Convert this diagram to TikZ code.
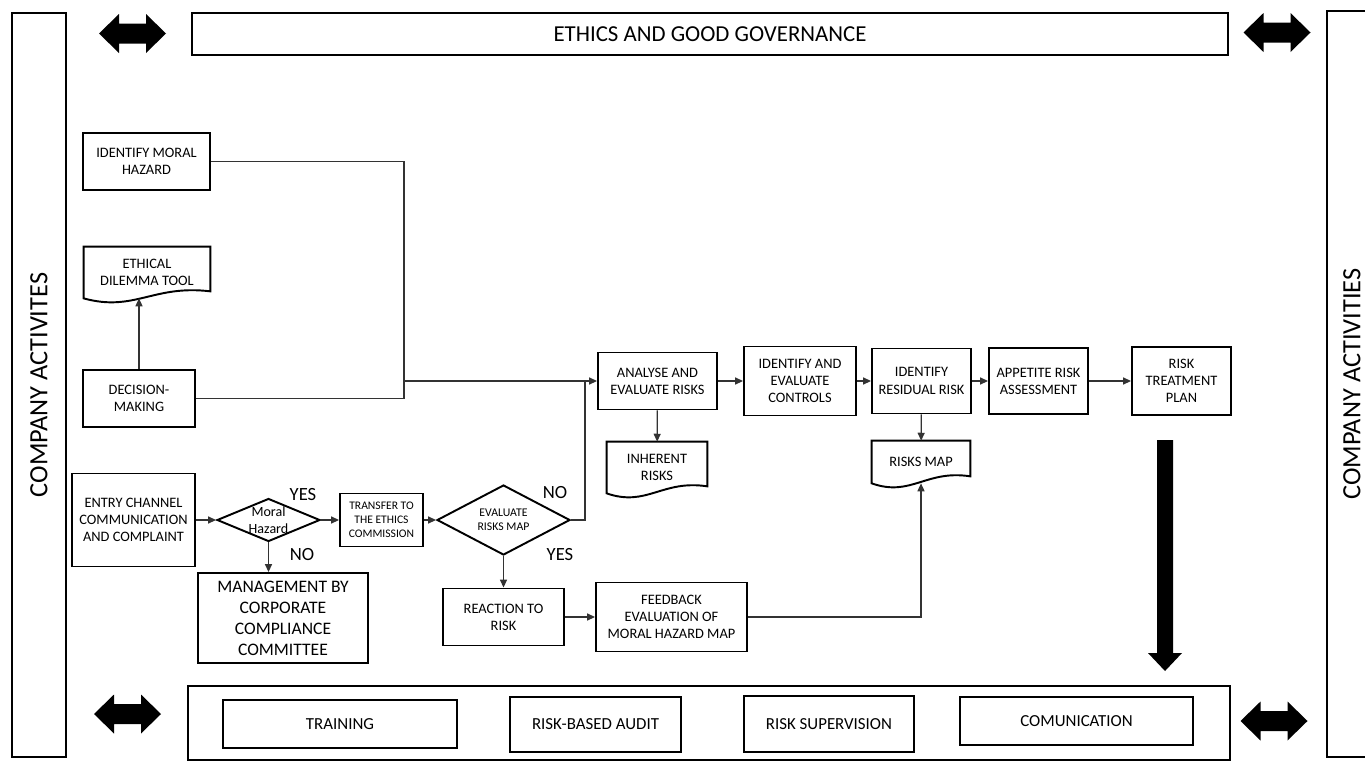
\documentclass[tikz,border=0pt]{standalone}
\usepackage{fontspec}
\setmainfont{Carlito}
\usetikzlibrary{shapes.geometric,arrows.meta,calc}

\newcommand{\dblarrow}[1]{%
  \fill #1 ++(-33.5,0) -- ++(20,-19.5) -- ++(0,9.5) -- ++(27,0) -- ++(0,-9.5)
    -- ++(20,19.5) -- ++(-20,19.5) -- ++(0,-9.5) -- ++(-27,0) -- ++(0,9.5) -- cycle;}

\begin{document}
\begin{tikzpicture}[x=0.02cm, y=-0.02cm,
    sz/.style 2 args={minimum width=#1*0.02cm, minimum height=#2*0.02cm},
    frame/.style={draw, line width=1.1pt, inner sep=0pt, align=center},
    box/.style={frame, font=\fontsize{8.2}{9.8}\selectfont},
    doc/.style={inner sep=0pt, align=center, font=\fontsize{8.2}{9.8}\selectfont},
    dec/.style={draw, diamond, line width=1.1pt, inner sep=0pt},
    act/.style={frame, font=\fontsize{9.6}{11}\selectfont},
    answer/.style={font=\fontsize{10.6}{12}\selectfont},
    line/.style={line width=0.7pt, black!80},
    arr/.style={line, -{Triangle[length=4.5pt,width=4pt]}}]
    \useasboundingbox (0,0) rectangle (1365,761);

    \node[frame, rotate=90, sz={744}{54}, font=\fontsize{15}{18}\selectfont] (caL) at (39,385) {COMPANY ACTIVITES};
    \node[frame, rotate=90, sz={746}{50}, font=\fontsize{15}{18}\selectfont] (caR) at (1352,384) {COMPANY ACTIVITIES};
    \node[frame, sz={1036}{42}, font=\fontsize{13}{15}\selectfont] (egg) at (710,34) {ETHICS AND GOOD GOVERNANCE};
    \node[frame, sz={1042}{74}] (base) at (709,723) {};
    \dblarrow{(132.5,33.5)}
    \dblarrow{(1277,32.5)}
    \dblarrow{(127.5,714)}
    \dblarrow{(1274,721)}

    \node[box, sz={127}{57}] (imh) at (146.5,161.5) {IDENTIFY MORAL\\HAZARD};
    \node[doc, sz={126}{51}] (edt) at (147,272.5) {ETHICAL\\DILEMMA TOOL};
    \node[box, sz={112}{57}] (dm) at (139,398.5) {DECISION-\\MAKING};
    \node[box, sz={123}{93}] (ecc) at (133.5,520) {ENTRY CHANNEL\\COMMUNICATION\\AND COMPLAINT};
    \node[dec, sz={103}{43}, label={[align=center, font=\fontsize{8}{9.8}\selectfont]center:Moral\\Hazard}] (mh) at (268.5,520) {};
    \node[box, sz={170}{90}, font=\fontsize{10}{12}\selectfont] (mgt) at (283,618) {MANAGEMENT BY\\CORPORATE\\COMPLIANCE\\COMMITTEE};
    \node[box, sz={83}{53}, font=\fontsize{6.6}{7.9}\selectfont] (tec) at (381.5,520) {TRANSFER TO\\THE ETHICS\\COMMISSION};
    \node[dec, sz={133}{70}, label={[align=center, font=\fontsize{6.7}{7.9}\selectfont]center:EVALUATE\\RISKS MAP}] (erm) at (503.5,520) {};
    \node[box, sz={121}{57}] (rtr) at (503.5,617) {REACTION TO\\RISK};
    \node[box, sz={151}{69}] (fb) at (671.5,617) {FEEDBACK\\EVALUATION OF\\MORAL HAZARD MAP};
    \node[answer] (yes1) at (303,495) {YES};
    \node[answer] (no1) at (302,555) {NO};
    \node[answer] (no2) at (555,493) {NO};
    \node[answer] (yes2) at (560,555) {YES};

    \node[box, sz={119}{57}] (ana) at (657.5,381) {ANALYSE AND\\EVALUATE RISKS};
    \node[doc, sz={100}{51}] (inh) at (657,467.5) {INHERENT\\RISKS};
    \node[box, sz={112}{69}] (iec) at (800,381) {IDENTIFY AND\\EVALUATE\\CONTROLS};
    \node[box, sz={99}{65}] (res) at (921.5,381) {IDENTIFY\\RESIDUAL RISK};
    \node[doc, sz={98}{42}] (rmap) at (921,462) {RISKS MAP};
    \node[box, sz={99}{66}] (app) at (1038.5,381) {APPETITE RISK\\ASSESSMENT};
    \node[box, sz={99}{68}] (rtp) at (1181.5,381) {RISK\\TREATMENT\\PLAN};

    \node[act, sz={234}{48}] (trn) at (340,724) {TRAINING};
    \node[act, sz={171}{55}] (rba) at (595.5,724.5) {RISK-BASED AUDIT};
    \node[act, sz={170}{56}] (rsv) at (829,724) {RISK SUPERVISION};
    \node[act, sz={233}{48}] (com) at (1076.5,721) {COMUNICATION};

    \foreach \n in {edt,inh,rmap}
        \draw[line width=1.1pt] (\n.south west) -- (\n.north west) -- (\n.north east)
            -- ($(\n.south east)+(0,-7)$)
            .. controls ($(\n.south east)!0.45!(\n.south west)+(0,-14)$) and ($(\n.south east)!0.6!(\n.south west)+(0,14)$)
            .. (\n.south west) -- cycle;

    \coordinate (jd) at (404,398.5);
    \coordinate (jm) at (404,381);
    \coordinate (jn) at (585,381);
    \draw[line] (imh) -| (jd) -- (dm);
    \draw[arr] (dm) -- (dm |- edt.south);
    \draw[arr] (jm) -- (ana);
    \draw[arr] (ana) -- (iec);
    \draw[arr] (iec) -- (res);
    \draw[arr] (res) -- (app);
    \draw[arr] (app) -- (rtp);
    \draw[arr] (ana) -- (inh);
    \draw[arr] (res) -- (rmap);
    \draw[arr] (ecc) -- (mh);
    \draw[arr] (mh) -- (tec);
    \draw[arr] (mh.south) -- (mh.south |- mgt.north);
    \draw[arr] (tec) -- (erm);
    \draw[line] (erm) -| (jn);
    \draw[arr] (erm) -- (rtr);
    \draw[arr] (rtr) -- (fb);
    \draw[arr] (fb) -| (rmap.south);

    \fill (1157,440) -- (1173,440) -- (1173,653) -- (1182,653) -- (1165,671) -- (1148,653) -- (1157,653) -- cycle;
\end{tikzpicture}
\end{document}
